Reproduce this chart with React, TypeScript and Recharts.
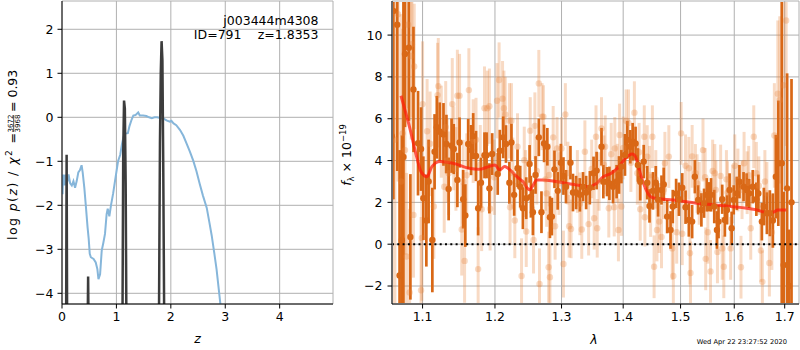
import React from 'react';
import { ComposedChart, Line, Scatter, XAxis, YAxis, CartesianGrid, ErrorBar } from 'recharts';

const FONT = '"DejaVu Sans", Verdana, sans-serif';

// ---------- left panel: log p(z) ----------
const zTicks = [0, 1, 2, 3, 4];
const pzTicks = [-4, -3, -2, -1, 0, 1, 2];

const pzZ = [0, 0.01, 0.02, 0.04, 0.06, 0.08, 0.1, 0.12, 0.15, 0.18,
  0.21, 0.24, 0.27, 0.3, 0.33, 0.36, 0.38, 0.41, 0.44, 0.47,
  0.49, 0.51, 0.53, 0.58, 0.62, 0.65, 0.67, 0.7, 0.73, 0.76,
  0.79, 0.82, 0.84, 0.87, 0.9, 0.94, 0.98, 1.03, 1.07, 1.1,
  1.13, 1.16, 1.21, 1.24, 1.28, 1.31, 1.35, 1.4, 1.43, 1.49,
  1.55, 1.6, 1.65, 1.7, 1.75, 1.82, 1.87, 1.92, 1.98, 2.01,
  2.05, 2.1, 2.17, 2.23, 2.29, 2.35, 2.41, 2.47, 2.53, 2.59,
  2.66, 2.71, 2.75, 2.8, 2.84, 2.88, 2.92, 2.96];
const pzLogP = [-1.43, -1.75, -1.3, -1.55, -1.3, -1.55, -1.45, -1.3, -1.5, -1.55,
  -1.45, -1.6, -1.45, -1.25, -1.2, -1.09, -1.25, -1.6, -2.04, -2.5,
  -2.75, -3.1, -3.18, -3.22, -3.3, -3.45, -3.68, -3.57, -3.03, -2.85,
  -2.65, -2.2, -2.08, -2.25, -2.0, -1.73, -1.4, -1.0, -0.85, -0.62,
  -0.45, -0.37, -0.36, -0.2, -0.05, 0.04, 0.05, 0.11, 0.04, 0.04,
  0.03, 0.0, -0.02, 0.0, 0.0, -0.02, -0.03, -0.07, -0.1, -0.08,
  -0.14, -0.18, -0.29, -0.42, -0.6, -0.78, -0.98, -1.22, -1.51, -1.78,
  -2.06, -2.4, -2.68, -3.1, -3.45, -3.9, -4.35, -4.8];

const spikeZ = [0.075, 0.085, 0.095, 0.47, 0.48, 0.49, 1.11, 1.125, 1.14, 1.155, 1.17, 1.185,
  1.78, 1.8, 1.815, 1.83, 1.845, 1.86, 1.88];
const spikeY = [-5, -0.85, -5, -5, -3.62, -5, -5, -0.8, 0.38, 0.2, -1.5, -5,
  -5, -0.6, 1.0, 1.73, 1.3, -1.0, -5];

// ---------- right panel: spectrum ----------
const lamTicks = [1.1, 1.2, 1.3, 1.4, 1.5, 1.6, 1.7];
const fluxTicks = [-2, 0, 2, 4, 6, 8, 10];

const darkLam = [1.060, 1.062, 1.067, 1.070, 1.073, 1.075, 1.077, 1.082, 1.084, 1.088,
  1.094, 1.098, 1.101, 1.105, 1.108, 1.113, 1.116, 1.119, 1.123, 1.128,
  1.132, 1.135, 1.139, 1.142, 1.147, 1.150, 1.155, 1.158, 1.162, 1.166,
  1.169, 1.173, 1.176, 1.180, 1.185, 1.188, 1.192, 1.196, 1.204, 1.207,
  1.212, 1.216, 1.221, 1.224, 1.228, 1.233, 1.237, 1.241, 1.246, 1.251,
  1.253, 1.256, 1.260, 1.265, 1.269, 1.273, 1.278, 1.282, 1.285, 1.289,
  1.294, 1.299, 1.303, 1.307, 1.314, 1.318, 1.323, 1.329, 1.334, 1.339,
  1.345, 1.351, 1.356, 1.364, 1.367, 1.373, 1.377, 1.383, 1.389, 1.393,
  1.397, 1.403, 1.407, 1.412, 1.416, 1.421, 1.425, 1.429, 1.435, 1.441,
  1.445, 1.451, 1.456, 1.460, 1.466, 1.470, 1.476, 1.482, 1.486, 1.492,
  1.497, 1.503, 1.509, 1.515, 1.521, 1.526, 1.532, 1.538, 1.543, 1.548,
  1.552, 1.556, 1.562, 1.567, 1.570, 1.577, 1.582, 1.586, 1.591, 1.595,
  1.599, 1.605, 1.610, 1.618, 1.624, 1.629, 1.636, 1.643, 1.647, 1.654,
  1.658, 1.664, 1.670, 1.676, 1.682, 1.687, 1.694, 1.698, 1.705, 1.709,
  1.714];
const darkFlux = [5.17, 11.15, 10.5, -1.5, 0.2, 4.17, 9.1, 9.4, 0.35, 7.4,
  4.83, 4.55, 2.2, 1.13, 3.0, 0.2, 4.42, 5.59, 5.38, 5.25,
  4.79, 2.64, 4.71, 4.55, 3.07, 4.86, 2.15, 1.37, 4.79, 4.5,
  5.17, 4.22, 1.72, 2.94, 4.25, 4.25, 2.67, 4.31, 3.36, 4.47,
  5.11, 4.79, 2.94, 4.86, 2.36, 3.63, 2.75, 1.72, 2.2, 3.84,
  2.27, 1.53, 3.31, 5.11, 1.53, 4.82, 4.66, 1.29, 1.32, 3.58,
  2.55, 3.9, 3.26, 2.75, 3.9, 2.47, 2.47, 2.36, 2.75, 2.47,
  2.7, 3.39, 3.52, 4.66, 2.99, 2.99, 2.91, 2.75, 2.99, 3.31,
  3.71, 4.27, 4.99, 4.66, 4.9, 4.82, 3.79, 2.99, 3.95, 2.94,
  1.83, 2.55, 2.94, 2.12, 2.59, 2.86, 1.32, 0.68, 1.8, 2.43,
  2.15, 2.7, 1.77, 1.16, 1.08, 3.23, 2.12, 1.64, 1.96, 2.36,
  2.27, 2.36, 1.8, 0.68, 1.08, 2.15, 1.16, 1.64, 2.59, 0.76,
  2.12, 2.43, 2.99, 2.75, 2.59, 2.43, 2.75, 2.15, 2.43, 1.08,
  1.8, 1.48, 1.48, 1.13, 3.23, 3.87, 3.87, -0.99, 2.67, -2.0,
  2.0];
const darkErr = [8, 9, 7, 6, 5, 8, 3.5, 3.5, 3, 3,
  2.5, 2, 2, 2.2, 2, 2.5, 1.8, 1.5, 1.4, 1.5,
  1.4, 1.5, 1.3, 1.2, 1.3, 1.2, 1.4, 1.5, 1.2, 1.2,
  1.1, 1.2, 1.3, 1.2, 1.1, 1.1, 1.2, 1.0, 1.0, 1.0,
  1.0, 0.9, 1.0, 0.9, 1.0, 0.9, 1.0, 1.0, 1.0, 0.9,
  1.0, 1.1, 0.9, 0.9, 1.0, 0.9, 0.9, 1.0, 0.9, 0.9,
  0.9, 0.9, 0.9, 0.8, 0.8, 0.9, 0.8, 0.8, 0.7, 0.8,
  0.8, 0.8, 0.9, 0.9, 0.8, 0.7, 0.8, 0.8, 0.8, 0.9,
  0.8, 1.0, 0.9, 0.8, 0.9, 0.8, 0.8, 0.9, 0.8, 0.8,
  0.8, 0.9, 0.8, 0.8, 0.7, 0.8, 0.8, 0.9, 0.8, 0.7,
  0.8, 0.7, 0.8, 0.8, 0.8, 0.8, 0.7, 0.8, 0.7, 0.8,
  0.7, 0.8, 0.8, 0.9, 0.8, 0.7, 0.8, 0.7, 0.8, 0.8,
  0.7, 0.8, 0.8, 0.7, 0.8, 0.7, 0.8, 0.8, 0.9, 0.9,
  0.9, 1.0, 1.1, 1.3, 2.0, 3.0, 8.0, 3.5, 5.5, 2.7,
  5.9];

const lightLam = [1.061, 1.064, 1.068, 1.072, 1.074, 1.077, 1.079, 1.081, 1.083, 1.085,
  1.086, 1.088, 1.089, 1.098, 1.099, 1.100, 1.106, 1.110, 1.115, 1.120,
  1.121, 1.125, 1.129, 1.131, 1.133, 1.135, 1.140, 1.142, 1.145, 1.147,
  1.150, 1.153, 1.155, 1.157, 1.160, 1.163, 1.169, 1.173, 1.176, 1.179,
  1.181, 1.185, 1.189, 1.192, 1.193, 1.199, 1.203, 1.206, 1.211, 1.213,
  1.215, 1.221, 1.222, 1.224, 1.226, 1.229, 1.233, 1.239, 1.243, 1.245,
  1.246, 1.252, 1.257, 1.259, 1.262, 1.265, 1.266, 1.270, 1.272, 1.275,
  1.277, 1.280, 1.281, 1.282, 1.287, 1.290, 1.293, 1.296, 1.300, 1.303,
  1.306, 1.310, 1.312, 1.315, 1.325, 1.329, 1.332, 1.337, 1.343, 1.348,
  1.352, 1.355, 1.357, 1.360, 1.364, 1.368, 1.370, 1.376, 1.380, 1.385,
  1.386, 1.390, 1.392, 1.394, 1.397, 1.400, 1.405, 1.409, 1.413, 1.419,
  1.424, 1.427, 1.429, 1.436, 1.437, 1.441, 1.445, 1.447, 1.450, 1.453,
  1.456, 1.458, 1.462, 1.466, 1.470, 1.472, 1.479, 1.485, 1.487, 1.493,
  1.501, 1.503, 1.509, 1.515, 1.517, 1.518, 1.521, 1.527, 1.530, 1.534,
  1.541, 1.545, 1.546, 1.550, 1.555, 1.559, 1.563, 1.565, 1.568, 1.574,
  1.577, 1.580, 1.585, 1.587, 1.593, 1.597, 1.601, 1.607, 1.613, 1.615,
  1.619, 1.625, 1.628, 1.632, 1.638, 1.643, 1.648, 1.652, 1.655, 1.660,
  1.664, 1.669, 1.674, 1.679, 1.686, 1.690, 1.697, 1.703];
const lightFlux = [11.1, 5.0, 11.0, 3.0, 5.3, 4.5, -0.59, 10.5, -2.31, 9.0,
  9.56, 1.4, 8.5, -2.2, 0.3, 6.7, 5.4, 4.8, 1.8, 7.13,
  7.56, 5.38, 2.75, 5.6, 4.0, 3.39, 6.7, 4.58, 3.6, 7.1,
  7.1, 0.7, 2.99, -0.8, 3.3, 7.37, 4.93, 5.0, -1.19, 3.8,
  1.67, 6.5, 6.5, 6.6, 1.7, 3.2, 6.86, 7.85, 6.96, 6.5,
  6.2, 5.9, 1.77, 5.9, 3.4, 1.13, 4.66, -1.52, 4.02, 2.9,
  0.61, 5.43, 0.2, 5.66, 3.5, 7.69, -1.9, 6.1, 6.1, 3.1,
  2.43, -1.1, 3.31, -1.58, 5.11, 0.86, 4.58, 2.9, 4.58, -0.95,
  6.2, 3.4, 0.86, 0.73, 3.0, 1.93, 0.7, 4.42, 0.96, 3.6,
  1.24, 5.14, 0.76, 3.0, 5.53, 3.8, 4.66, 1.72, 4.3, 1.77,
  4.58, 3.4, 0.68, 5.22, 1.8, 4.6, 5.9, 5.8, 3.9, 6.29,
  3.39, 4.4, 1.67, 5.14, 1.29, 4.19, 3.3, 1.85, 5.14, -1.08,
  3.1, 0.68, 1.08, 0.35, 2.6, 3.87, 4.19, -0.2, -1.52, 0.57,
  5.3, 0.5, 3.75, 3.63, -0.43, -1.38, 4.2, 3.39, 2.9, 2.43,
  4.5, 3.2, -0.7, 0.57, -1.3, 3.5, 3.39, 2.6, -0.37, 3.26,
  -0.2, -1.08, 3.1, 2.47, -0.2, 2.4, 3.75, 3.07, -1.1, 2.6,
  3.87, 2.94, 3.3, 0.76, 5.14, 3.39, 2.8, -0.3, -1.8, 3.0,
  2.43, -0.9, 0.57, 5.2, 7.2, 6.9, 7.6, 10.7];
const lightErr = [9, 9, 8, 8, 5, 5, 4, 4, 4, 4,
  3.5, 3, 3, 3.5, 3, 3, 2.5, 2.5, 2.5, 2.5,
  2.3, 2.2, 2.2, 2.2, 2.0, 2.0, 2.2, 2.0, 2.0, 2.2,
  2.0, 2.2, 2.0, 2.0, 2.0, 2.0, 2.0, 2.0, 2.0, 1.9,
  2.0, 2.0, 1.8, 1.8, 2.0, 1.8, 1.8, 1.8, 1.8, 1.8,
  1.8, 1.8, 1.8, 1.8, 1.7, 1.8, 1.6, 1.8, 1.6, 1.6,
  1.7, 1.6, 1.6, 1.6, 1.6, 1.6, 1.7, 1.6, 1.5, 1.5,
  1.6, 1.7, 1.5, 1.6, 1.5, 1.6, 1.5, 1.5, 1.5, 1.6,
  1.5, 1.5, 1.5, 1.4, 1.5, 1.5, 1.4, 1.5, 1.5, 1.4,
  1.5, 1.5, 1.4, 1.4, 1.5, 1.4, 1.5, 1.4, 1.5, 1.4,
  1.5, 1.4, 1.5, 1.5, 1.4, 1.5, 1.5, 1.6, 1.4, 1.5,
  1.5, 1.4, 1.5, 1.5, 1.4, 1.5, 1.4, 1.5, 1.5, 1.5,
  1.4, 1.5, 1.5, 1.5, 1.4, 1.5, 1.5, 1.5, 1.5, 1.5,
  1.5, 1.5, 1.5, 1.5, 1.5, 1.5, 1.5, 1.4, 1.4, 1.5,
  1.5, 1.4, 1.5, 1.5, 1.5, 1.5, 1.4, 1.4, 1.5, 1.5,
  1.5, 1.5, 1.4, 1.5, 1.5, 1.4, 1.5, 1.5, 1.5, 1.4,
  1.5, 1.5, 1.4, 1.5, 1.5, 1.5, 1.4, 1.5, 1.5, 1.5,
  1.5, 1.6, 1.8, 2.5, 3.5, 4, 5, 6];

const modelLam = [1.0718, 1.0839, 1.0921, 1.0979, 1.1058, 1.1124, 1.1234, 1.141, 1.163, 1.177,
  1.191, 1.2, 1.207, 1.214, 1.219, 1.232, 1.241, 1.251, 1.255, 1.262,
  1.272, 1.302, 1.334, 1.341, 1.356, 1.367, 1.38, 1.393, 1.404, 1.415,
  1.42, 1.429, 1.438, 1.447, 1.456, 1.47, 1.5, 1.53, 1.562, 1.593,
  1.624, 1.644, 1.66, 1.677, 1.686, 1.703];
const modelFlux = [7.1, 5.46, 4.19, 3.47, 3.23, 3.71, 3.95, 3.87, 3.63, 3.58,
  3.71, 3.79, 3.55, 3.71, 3.63, 3.23, 2.99, 2.6, 2.75, 3.07,
  3.07, 2.94, 2.78, 2.75, 2.91, 3.23, 3.39, 3.71, 4.11, 4.31,
  4.22, 3.39, 2.67, 2.27, 2.19, 2.15, 2.07, 1.96, 1.88, 1.8,
  1.72, 1.64, 1.53, 1.53, 1.64, 1.64];

const zeroLam = [1.0603, 1.7295];
const zeroFlux = [0, 0];

const DARK = '#d96816';
const LIGHT = '#e8843c';
const LAM_DOMAIN: [number, number] = [1.0603, 1.7295];
const FLUX_DOMAIN: [number, number] = [-2.86, 11.63];

const minusFmt = (v: number) => (v < 0 ? '\u2212' + Math.abs(v) : String(v));
const tickStyle = { fontSize: 12.5, fill: '#000', fontFamily: FONT };

const darkDot = (p: any) => <circle cx={p.cx} cy={p.cy} r={3.2} fill={DARK} />;
const lightDot = (p: any) => <circle cx={p.cx} cy={p.cy} r={3.2} fill={LIGHT} fillOpacity={0.3} />;

export default function App() {
  const pzData = pzZ.map((x, i) => ({ x, y: pzLogP[i] }));
  const spikeData = spikeZ.map((x, i) => ({ x, y: spikeY[i] }));
  const darkData = darkLam.map((x, i) => ({ x, y: darkFlux[i], e: darkErr[i] }));
  const lightData = lightLam.map((x, i) => ({ x, y: lightFlux[i], e: lightErr[i] }));
  const modelData = modelLam.map((x, i) => ({ x, y: modelFlux[i] }));
  const zeroData = zeroLam.map((x, i) => ({ x, y: zeroFlux[i] }));

  const R_MARGIN = { top: 1, right: 1, bottom: 0, left: 0 };

  return (
    <div style={{ position: 'absolute', left: 0, top: 0, width: 800, height: 350, background: '#fff', fontFamily: FONT }}>
      {/* left panel */}
      <div style={{ position: 'absolute', left: 0, top: 0 }}>
        <ComposedChart width={340} height={350} margin={{ top: 1, right: 7, bottom: 0, left: 0 }}>
          <CartesianGrid stroke="#b0b0b0" strokeWidth={1} fill="none" />
          <XAxis dataKey="x" type="number" domain={[0, 4.98]} ticks={zTicks} allowDataOverflow interval={0}
            height={46} tick={tickStyle} tickSize={4.5} tickMargin={4}
            axisLine={{ stroke: '#000' }} tickLine={{ stroke: '#000' }} />
          <YAxis dataKey="y" type="number" domain={[-4.243, 2.643]} ticks={pzTicks} allowDataOverflow interval={0}
            width={62} tick={tickStyle} tickSize={4.5} tickMargin={4} tickFormatter={minusFmt}
            axisLine={{ stroke: '#000' }} tickLine={{ stroke: '#000' }} />
          <XAxis xAxisId="top" orientation="top" type="number" domain={[0, 1]} height={0}
            tick={false} tickLine={false} axisLine={{ stroke: '#000' }} />
          <YAxis yAxisId="right" orientation="right" type="number" domain={[0, 1]} width={0}
            tick={false} tickLine={false} axisLine={{ stroke: '#000' }} />
          <Line data={pzData} dataKey="y" type="linear" stroke="#86b6da" strokeWidth={2} dot={false}
            isAnimationActive={false} />
          <Line data={spikeData} dataKey="y" type="linear" stroke="#3c3c3c" strokeWidth={2.5} dot={false}
            isAnimationActive={false} />
        </ComposedChart>
      </div>

      {/* right panel: axes and grid */}
      <div style={{ position: 'absolute', left: 330, top: 0 }}>
        <ComposedChart width={470} height={350} margin={R_MARGIN} data={zeroData}>
          <CartesianGrid stroke="#b0b0b0" strokeWidth={1} fill="none" />
          <XAxis dataKey="x" type="number" scale="log" domain={LAM_DOMAIN} ticks={lamTicks}
            allowDataOverflow interval={0} height={46} tick={tickStyle} tickSize={4.5} tickMargin={4}
            tickFormatter={(v: number) => v.toFixed(1)}
            axisLine={{ stroke: '#000' }} tickLine={{ stroke: '#000' }} />
          <YAxis dataKey="y" type="number" domain={FLUX_DOMAIN} ticks={fluxTicks} allowDataOverflow interval={0}
            width={62} tick={tickStyle} tickSize={4.5} tickMargin={5} tickFormatter={minusFmt}
            axisLine={{ stroke: '#000' }} tickLine={{ stroke: '#000' }} />
          <XAxis xAxisId="top" orientation="top" type="number" domain={[0, 1]} height={0}
            tick={false} tickLine={false} axisLine={{ stroke: '#000' }} />
          <YAxis yAxisId="right" orientation="right" type="number" domain={[0, 1]} width={0}
            tick={false} tickLine={false} axisLine={{ stroke: '#000' }} />
        </ComposedChart>
      </div>

      {/* right panel: data, clipped to the plot interior */}
      <div style={{ position: 'absolute', left: 393, top: 2, width: 405, height: 301, overflow: 'hidden' }}>
        <div style={{ position: 'absolute', left: -63, top: -2 }}>
          <ComposedChart width={470} height={350} margin={R_MARGIN}>
            <XAxis dataKey="x" type="number" scale="log" domain={LAM_DOMAIN} ticks={lamTicks}
              allowDataOverflow height={46} tick={false} tickLine={false} axisLine={false} />
            <YAxis dataKey="y" type="number" domain={FLUX_DOMAIN} ticks={fluxTicks} allowDataOverflow
              width={62} tick={false} tickLine={false} axisLine={false} />
            <Scatter data={lightData} shape={lightDot} isAnimationActive={false}>
              <ErrorBar dataKey="e" direction="y" width={0} stroke={LIGHT} strokeOpacity={0.3} strokeWidth={3} />
            </Scatter>
            <Scatter data={darkData} shape={darkDot} isAnimationActive={false}>
              <ErrorBar dataKey="e" direction="y" width={0} stroke={DARK} strokeWidth={2.7} />
            </Scatter>
            <Line data={modelData} dataKey="y" type="monotone" stroke="#ff1a0a" strokeOpacity={0.72} strokeWidth={3}
              dot={false} isAnimationActive={false} />
            <Line data={zeroData} dataKey="y" type="linear" stroke="#000" strokeWidth={2} strokeDasharray="2 3.3"
              dot={false} isAnimationActive={false} />
          </ComposedChart>
        </div>
      </div>

      <svg width={800} height={350} style={{ position: 'absolute', left: 0, top: 0, pointerEvents: 'none' }}
        fontFamily={FONT}>
        <g transform="translate(16.5,154) rotate(-90)" fill="#000">
          <text x={-86} y={0} fontSize={12.5} textLength={107} lengthAdjust="spacing">
            log <tspan fontStyle="italic">p</tspan>(<tspan fontStyle="italic">z</tspan>) / <tspan fontStyle="italic">χ</tspan>
            <tspan fontSize={9} dy={-5}>2</tspan><tspan dy={5}> =</tspan>
          </text>
          <text x={30.5} y={-4} fontSize={7} textAnchor="middle">3672</text>
          <line x1={22} x2={39} y1={-2.8} y2={-2.8} stroke="#000" strokeWidth={0.7} />
          <text x={30.5} y={3.2} fontSize={7} textAnchor="middle">3968</text>
          <text x={42} y={0} fontSize={12.5}>= 0.93</text>
        </g>
        <g transform="translate(351,155) rotate(-90)" fill="#000">
          <text x={0} y={0} fontSize={12.5} textAnchor="middle">
            <tspan fontStyle="italic">f</tspan><tspan fontSize={8.5} dy={3}>λ</tspan>
            <tspan dy={-3}> × 10</tspan><tspan fontSize={8.5} dy={-5}>−19</tspan>
          </text>
        </g>
        <text x={197.5} y={343} fontSize={12.5} fontStyle="italic" textAnchor="middle">z</text>
        <text x={594} y={344} fontSize={12.5} fontStyle="italic" textAnchor="middle">λ</text>
        <text x={318.5} y={24.5} fontSize={12.5} textAnchor="end">j003444m4308</text>
        <text x={241.5} y={38.5} fontSize={12.5} textAnchor="end">ID=791</text>
        <text x={318.5} y={38.5} fontSize={12.5} textAnchor="end">z=1.8353</text>
        <text x={787} y={343.5} fontSize={6.7} textAnchor="end">Wed Apr 22 23:27:52 2020</text>
      </svg>
    </div>
  );
}
